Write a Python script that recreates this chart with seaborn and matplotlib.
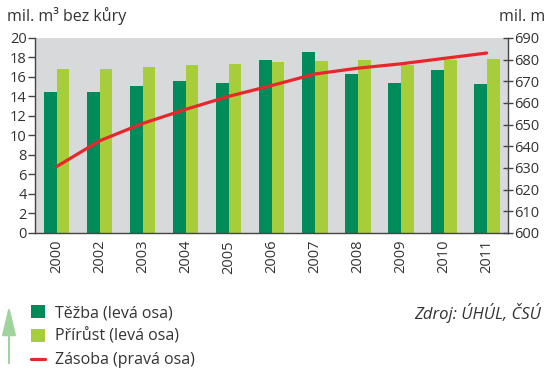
import matplotlib
matplotlib.use("Agg")
import matplotlib.pyplot as plt
import seaborn as sns
import pandas as pd
from matplotlib.lines import Line2D
from matplotlib.patches import FancyArrowPatch
from matplotlib.ticker import FixedLocator, NullFormatter

# Data: forest harvest, increment (mil. m3 without bark) and growing stock
years = ["2000", "2002", "2003", "2004", "2005", "2006", "2007", "2008", "2009", "2010", "2011"]
tezba = [14.4, 14.5, 15.1, 15.6, 15.4, 17.7, 18.5, 16.3, 15.4, 16.7, 15.3]
prirust = [16.8, 16.8, 17.0, 17.2, 17.3, 17.5, 17.6, 17.7, 17.2, 17.7, 17.8]
zasoba = [630.6, 642.5, 650.5, 657.0, 663.0, 668.0, 673.3, 676.0, 678.0, 680.5, 683.0]

series_names = ["Těžba (levá osa)", "Přírůst (levá osa)"]
line_name = "Zásoba (pravá osa)"

DARK = "#008b5a"
LIGHT = "#a7cd3a"
RED = "#e8262b"
BG = "#d8d9db"
AXC = "#444444"
TXT = "#333333"

df = pd.DataFrame({
    "rok": years * 2,
    "hodnota": tezba + prirust,
    "serie": [series_names[0]] * len(years) + [series_names[1]] * len(years),
})

sns.set_style("white")
plt.rcParams["font.family"] = ["Open Sans", "DejaVu Sans"]

fig = plt.figure(figsize=(5.47, 3.71), dpi=100)
ax = fig.add_axes([0.064, 0.372, 0.865, 0.526])
ax.set_facecolor(BG)

sns.barplot(data=df, x="rok", y="hodnota", hue="serie",
            palette=[DARK, LIGHT], width=0.6, saturation=1,
            edgecolor="none", linewidth=0, ax=ax, legend=True)
bar_handles, bar_labels = ax.get_legend_handles_labels()
ax.get_legend().remove()

ax.set_xlim(-0.5, len(years) - 0.5)
ax.set_ylim(0, 20)
ax.set_yticks(range(0, 21, 2))
ax.set_xlabel("")
ax.set_ylabel("")

ax2 = ax.twinx()
sns.lineplot(x=list(range(len(years))), y=zasoba, color=RED, linewidth=2.3,
             ax=ax2, legend=False)
ax2.set_ylim(600, 690)
ax2.set_yticks(range(600, 691, 10))
ax2.set_xlim(-0.5, len(years) - 0.5)

for a in (ax, ax2):
    for s in a.spines.values():
        s.set_visible(False)

ax.spines["left"].set_visible(True)
ax.spines["bottom"].set_visible(True)
ax2.spines["right"].set_visible(True)
for sp in (ax.spines["left"], ax.spines["bottom"], ax2.spines["right"]):
    sp.set_color(AXC)
    sp.set_linewidth(1.0)

ax.tick_params(axis="y", direction="out", length=5, width=1, color=AXC,
               labelsize=10.5, labelcolor=TXT, pad=1)
ax2.tick_params(axis="y", direction="inout", length=7, width=1, color=AXC,
                labelsize=10.5, labelcolor=TXT, pad=1)
ax.tick_params(axis="x", which="major", length=0, labelsize=10.5,
               labelcolor=TXT, labelrotation=90, pad=5)
ax.xaxis.set_minor_locator(FixedLocator([i + 0.5 for i in range(len(years) - 1)]))
ax.xaxis.set_minor_formatter(NullFormatter())
ax.tick_params(axis="x", which="minor", direction="inout", length=7, width=1,
               color=AXC)

# Axis unit captions
fig.text(7 / 547, 1 - 16 / 371, "mil. m³ bez kůry", fontsize=11.5, color=TXT,
         ha="left", va="center")
fig.text(545 / 547, 1 - 17 / 371, "mil. m", fontsize=11.5, color=TXT,
         ha="right", va="center")

# Legend
line_handle = Line2D([0], [0], color=RED, linewidth=2.3)
leg = fig.legend(bar_handles + [line_handle], bar_labels + [line_name],
                 loc="upper left", bbox_to_anchor=(31 / 547, 1 - 305 / 371),
                 frameon=False, fontsize=11.5, handlelength=0.9,
                 handleheight=0.8, handletextpad=0.6, labelspacing=0.47,
                 borderaxespad=0, borderpad=0)
for t in leg.get_texts():
    t.set_color(TXT)

# Decorative arrow beside the legend
fig.add_artist(FancyArrowPatch(
    (9 / 547, 1 - 366 / 371), (9 / 547, 1 - 303 / 371),
    transform=fig.transFigure, arrowstyle="-|>,head_length=18,head_width=4.3",
    color="#9fd49c", linewidth=1.5, mutation_scale=1))

fig.text(541 / 547, 1 - 313 / 371, "Zdroj: ÚHÚL, ČSÚ", fontsize=12,
         style="italic", color=TXT, ha="right", va="center")

fig.savefig("out.png", dpi=100)
